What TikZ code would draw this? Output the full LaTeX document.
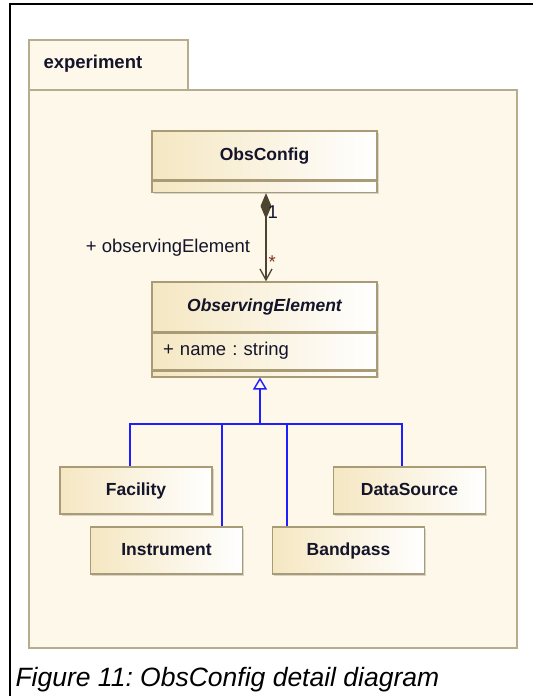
\documentclass[tikz,border=0pt]{standalone}
\usepackage{fontspec}
\setmainfont{Liberation Sans}
\usepackage{tikz}
\usetikzlibrary{arrows.meta,calc,shadows}
\frenchspacing

\definecolor{pkgfill}{HTML}{FEF8EA}
\definecolor{pkgdraw}{HTML}{B6AC8E}
\definecolor{clsleft}{HTML}{F5E7C2}
\definecolor{clsdraw}{HTML}{A99B76}
\definecolor{txtcol}{HTML}{14142A}
\definecolor{genblue}{HTML}{1E1EFF}
\definecolor{assoccol}{HTML}{4E4430}

\newcommand{\umlsize}{\fontsize{17.5}{20}\selectfont}
\newcommand{\labsize}{\fontsize{18.5}{21}\selectfont}

\tikzset{
  pkgline/.style={draw=pkgdraw,fill=pkgfill,line width=1.6pt},
  classbox/.style={draw=clsdraw,line width=1.4pt,left color=clsleft,right color=white,
    minimum width=225pt,inner sep=0pt,font=\umlsize\bfseries,text=txtcol,
    text height=12.5pt,text depth=3.5pt,
    drop shadow={shadow xshift=1.5pt,shadow yshift=-1.5pt,fill=black!30,opacity=.5}},
  opsbox/.style={classbox,anchor=north,text height=0pt,text depth=0pt},
  subbox/.style={classbox,minimum width=152pt,minimum height=47pt},
  genline/.style={draw=genblue,line width=1.4pt},
  assocline/.style={draw=assoccol,line width=1.3pt},
}

\begin{document}
\begin{tikzpicture}[x=1pt,y=-1pt]
\useasboundingbox (0,0) rectangle (533,696);

\draw[line width=1.3pt] (10,696) -- (10,4) -- (533,4);

\draw[pkgline] (29,40) rectangle (188,90);
\draw[pkgline] (29,90) rectangle (517,648);
\node[anchor=west,font=\labsize\bfseries,text=txtcol] (pkgname) at (40,64) {experiment};

\node[classbox,minimum height=49pt] (obscfg) at (264.5,155.5) {ObsConfig};
\node[opsbox,minimum height=11pt] (obscfgops) at (obscfg.south) {};

\node[classbox,minimum height=50pt] (obselem) at (264.5,307) {\itshape ObservingElement};
\node[classbox,minimum height=36pt,anchor=north,font=\labsize,text width=203pt,align=left] (obselemattr) at (obselem.south) {+ name : string};
\node[opsbox,minimum height=6pt] (obselemops) at (obselemattr.south) {};

\node[subbox] (fac) at (136,490.5) {Facility};
\node[subbox] (dsrc) at (409.5,490.5) {DataSource};
\node[subbox] (inst) at (166.5,550.5) {Instrument};
\node[subbox] (band) at (348.5,550.5) {Bandpass};

\draw[assocline,{Diamond[length=26pt,width=11pt,fill=assoccol]}-{Straight Barb[length=11pt,width=12pt]}]
  ($(obscfgops.south)+(1.5,0)$) -- ($(obselem.north)+(1.5,0)$)
  node[pos=0.22,right,font=\labsize,text=txtcol,inner sep=1pt] (mult1) {1}
  node[pos=0.78,right,font=\labsize,text=assoccol!70!red,inner sep=2pt] (multn) {*}
  node[pos=0.62,left,font=\labsize,text=txtcol,xshift=-12pt] (role) {+ observingElement};

\coordinate (gj) at (260,424);
\draw[genline,-{Triangle[open,length=12pt,width=14pt]}] (gj) -- (gj |- obselemops.south);
\draw[genline] (gj) -| ($(fac.north west)+(70.5,0)$);
\draw[genline] (gj) -| ($(inst.north west)+(132,0)$);
\draw[genline] (gj) -| ($(band.north west)+(15,0)$);
\draw[genline] (gj) -| ($(dsrc.north west)+(69,0)$);

\node[anchor=base west,font=\fontsize{26.5}{30}\selectfont\itshape] (caption) at (12,686) {Figure 11: ObsConfig detail diagram};
\end{tikzpicture}
\end{document}
